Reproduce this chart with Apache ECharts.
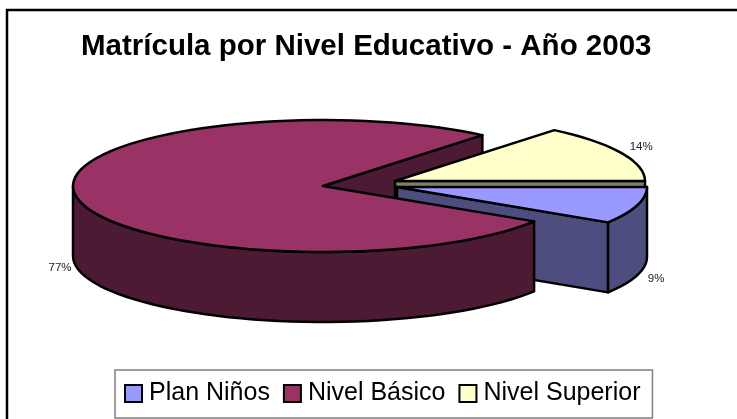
<!DOCTYPE html>
<html>
<head>
<meta charset="utf-8">
<style>html,body{margin:0;padding:0;background:#fff}#c{width:737px;height:419px}</style>
<script src="https://cdn.jsdelivr.net/npm/echarts@6/dist/echarts.min.js"></script>
</head>
<body>
<div id="c"></div>
<script>
const categories = ['Plan Niños', 'Nivel Básico', 'Nivel Superior'];
const values = [9, 77, 14];
const topColors = ['#9999FF', '#993366', '#FFFFCC'];
const sideColors = ['#4D4D80', '#4D1A33', '#808066'];

// Pie geometry (style only)
const RX = 250, RY = 66, DEPTH = 70;
const apexes = [[397, 187], [323, 186], [395, 181]];
const labelShift = [[19, 3], [-16, 2], [20, -6]];
const layers = [3, 4, 2];
const FONT = '"Liberation Sans", Arial, sans-serif';

const total = values.reduce((a, b) => a + b, 0);
const starts = [];
values.reduce((acc, v, i) => { starts[i] = acc; return acc + v; }, 0);

function pt(apex, deg, drop) {
  const r = deg * Math.PI / 180;
  return [apex[0] + RX * Math.cos(r), apex[1] + RY * Math.sin(r) + (drop || 0)];
}
function arc(apex, a1, a2, drop) {
  const pts = [];
  const n = Math.max(1, Math.ceil((a2 - a1) / 3));
  for (let i = 0; i <= n; i++) pts.push(pt(apex, a1 + (a2 - a1) * i / n, drop));
  return pts;
}

function makeRender(idx) {
  return function (params, api) {
    const value = api.value(0);
    const a1 = starts[idx] / total * 360;
    const a2 = a1 + value / total * 360;
    const apex = apexes[idx];
    const base = layers[idx] * 10;
    const style = { fill: sideColors[idx], stroke: '#000', lineWidth: 2.5, lineJoin: 'round' };
    const children = [];

    // Cut face that turns towards the viewer
    if (Math.cos(a2 * Math.PI / 180) > 0) {
      const e = pt(apex, a2);
      const backFace = a2 > 180 && idx === 1;
      children.push({
        type: 'polygon',
        z2: backFace ? 1 : base + 1,
        shape: { points: [apex, e, [e[0], e[1] + DEPTH], [apex[0], apex[1] + DEPTH]] },
        style: style
      });
    }
    // Outer wall: only the front half of the rim shows
    const w1 = Math.max(a1, 0), w2 = Math.min(a2, 180);
    if (w2 > w1) {
      const upper = arc(apex, w1, w2, 0);
      const lower = arc(apex, w1, w2, DEPTH).reverse();
      children.push({
        type: 'polygon',
        z2: base + 2,
        shape: { points: upper.concat(lower) },
        style: style
      });
    }
    // Top surface
    children.push({
      type: 'polygon',
      z2: base + 3,
      shape: { points: [apex].concat(arc(apex, a1, a2, 0)) },
      style: { fill: topColors[idx], stroke: '#000', lineWidth: 2.5, lineJoin: 'round' }
    });
    // Percent label at the slice bisector
    const mid = (a1 + a2) / 2;
    const isFront = Math.sin(mid * Math.PI / 180) > 0;
    const p = pt(apex, mid, isFront ? DEPTH : 0);
    children.push({
      type: 'text',
      z2: 90,
      style: {
        text: Math.round(value / total * 100) + '%',
        x: p[0] + labelShift[idx][0],
        y: p[1] + labelShift[idx][1],
        align: 'center',
        verticalAlign: 'middle',
        font: '11.5px ' + FONT,
        fill: '#222'
      }
    });
    return { type: 'group', children: children };
  };
}

const chart = echarts.init(document.getElementById('c'), null, { renderer: 'canvas' });
chart.setOption({
  animation: false,
  backgroundColor: '#fff',
  title: {
    text: 'Matrícula por Nivel Educativo - Año 2003',
    left: 81,
    top: 32,
    padding: 0,
    textStyle: { fontFamily: FONT, fontWeight: 'bold', fontSize: 29.5, color: '#000' }
  },
  graphic: [{
    type: 'rect',
    silent: true,
    shape: { x: 7, y: 10, width: 900, height: 600 },
    style: { fill: null, stroke: '#000', lineWidth: 2.5 }
  }],
  legend: {
    left: 115,
    top: 370,
    orient: 'horizontal',
    padding: [11, 12, 12, 9],
    itemGap: 13,
    itemWidth: 17,
    itemHeight: 17,
    borderColor: '#808080',
    borderWidth: 1.5,
    selectedMode: false,
    icon: 'rect',
    textStyle: { fontFamily: FONT, fontSize: 25, color: '#000', padding: [0, 0, 7, 2] },
    data: categories.map((name, i) => ({
      name: name,
      itemStyle: { color: topColors[i], borderColor: '#000', borderWidth: 2 }
    }))
  },
  series: categories.map((name, i) => ({
    type: 'custom',
    name: name,
    coordinateSystem: 'none',
    silent: true,
    itemStyle: { color: topColors[i] },
    renderItem: makeRender(i),
    data: [[values[i]]]
  }))
});
</script>
</body>
</html>
